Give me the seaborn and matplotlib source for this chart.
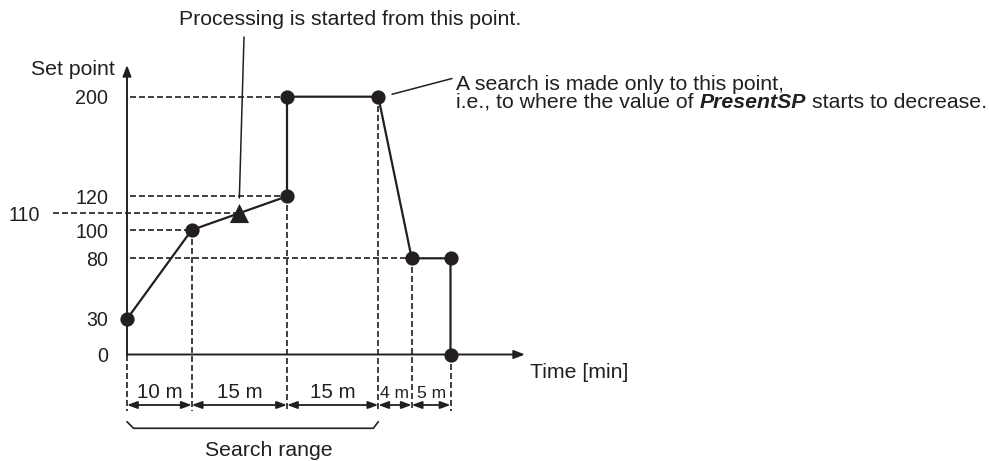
import numpy as np
import pandas as pd
import matplotlib
matplotlib.use("Agg")
import matplotlib.pyplot as plt
import seaborn as sns

# ---------------- data ----------------
time_min = [0, 10, 25, 25, 40, 44, 49, 49]
set_point = [30, 100, 120, 200, 200, 80, 80, 0]
start_time = 17.5
start_value = 110
segment_minutes = [10, 15, 15, 4, 5]
segment_labels = ["10 m", "15 m", "15 m", "4 m", "5 m"]
search_end = 40
y_ticks = [0, 30, 80, 100, 120, 200]
y_tick_labels = ["0", "30", "80", "100", "120", "200"]

INK = "#231f20"
W, H = 989, 461

sns.set_style("white")
plt.rcParams["font.family"] = ["Liberation Sans", "DejaVu Sans"]
FS = 15.3       # sentences
FS_NUM = 14.1   # numbers
FS_DIM = [14.8, 14.8, 14.8, 12.5, 12.5]

# schematic (non-linear) scales: anchor values -> figure pixels
boundaries = np.concatenate([[0], np.cumsum(segment_minutes)])
X_PX = np.array([127, 191.7, 287, 378.3, 411.7, 450.5])
Y_PX = np.array([354.5, 319, 258.3, 230, 196.3, 96.7])


def piecewise(src, dst):
    src = np.asarray(src, float)
    dst = np.asarray(dst, float)

    def f(v):
        v = np.asarray(v, float)
        out = np.interp(v, src, dst)
        lo_s = (dst[1] - dst[0]) / (src[1] - src[0])
        hi_s = (dst[-1] - dst[-2]) / (src[-1] - src[-2])
        out = np.where(v < src[0], dst[0] + (v - src[0]) * lo_s, out)
        out = np.where(v > src[-1], dst[-1] + (v - src[-1]) * hi_s, out)
        return out
    return f


fwd_x = piecewise(boundaries, X_PX)
inv_x = piecewise(X_PX, boundaries)
fwd_y = piecewise(y_ticks, H - Y_PX)
inv_y = piecewise(H - Y_PX, y_ticks)


def T(px):
    return float(inv_x(px))


def V(py):
    return float(inv_y(H - py))


fig = plt.figure(figsize=(W / 100, H / 100), dpi=100)
ax = fig.add_axes([127 / W, 0, 1 - 127 / W, 1])
ax.set_xscale("function", functions=(fwd_x, inv_x))
ax.set_yscale("function", functions=(fwd_y, inv_y))
ax.set_xlim(T(127), T(W))
ax.set_ylim(V(H), V(0))
for s in ax.spines.values():
    s.set_visible(False)
ax.tick_params(axis="x", bottom=False, labelbottom=False)
ax.set_yticks(y_ticks, y_tick_labels)
ax.tick_params(axis="y", length=0, pad=13.5, labelsize=FS_NUM, labelcolor=INK)
for lab in ax.get_yticklabels():
    lab.set_va("center_baseline")

dash_kw = dict(color=INK, lw=1.2, linestyle=(0, (3.6, 1.8)), clip_on=False, zorder=1)
hdash_kw = dict(color=INK, lw=1.2, linestyle=(3.6, (3.6, 1.8)), clip_on=False, zorder=1)

# horizontal dashed guides to the first point at each level
df = pd.DataFrame({"t": time_min, "v": set_point})
for val in [200, 120, 100, 80]:
    t_first = df.loc[df.v == val, "t"].min()
    ax.plot([0, t_first], [val, val], **hdash_kw)
# 110 guide (starts outside the axis)
ax.plot([T(53), start_time], [start_value, start_value], **dash_kw)
ax.text(T(40), start_value, str(start_value), ha="right", va="center_baseline",
        fontsize=FS_NUM, color=INK)

# vertical dashed guides down to the dimension line
bottom_v = V(411)
for b in boundaries:
    top = df.loc[df.t == b, "v"].min() if (df.t == b).any() else 0
    if b == 0:
        top = 0
    ax.plot([b, b], [top, bottom_v], **dash_kw)

# axes with arrows
arrow_kw = dict(arrowstyle="-|>,head_length=0.65,head_width=0.25", color=INK,
                lw=1.4, mutation_scale=10, shrinkA=0, shrinkB=0)
ax.annotate("", xy=(0, V(65)), xytext=(0, 0), arrowprops=arrow_kw, annotation_clip=False)
ax.annotate("", xy=(T(525), 0), xytext=(0, 0), arrowprops=arrow_kw, annotation_clip=False)

# main profile
sns.lineplot(data=df, x="t", y="v", sort=False, estimator=None, color=INK, lw=1.6,
             ax=ax, zorder=3)
sns.scatterplot(data=df, x="t", y="v", color=INK, s=105, linewidth=0, ax=ax, zorder=4,
                clip_on=False)
sns.scatterplot(x=[start_time], y=[start_value], marker="^", color=INK, s=190,
                linewidth=0, ax=ax, zorder=4)
ax.set_xlabel("")
ax.set_ylabel("")

# dimension arrows
dim_kw = dict(arrowstyle="<|-|>,head_length=0.6,head_width=0.22", color=INK,
              lw=1.3, mutation_scale=10, shrinkA=0, shrinkB=0)
dim_v = V(405)
for a, b, lab, fs in zip(boundaries[:-1], boundaries[1:], segment_labels, FS_DIM):
    ax.annotate("", xy=(b, dim_v), xytext=(a, dim_v), arrowprops=dim_kw,
                annotation_clip=False)
    mid = T((fwd_x(a) + fwd_x(b)) / 2)
    ax.text(mid, V(398), lab, ha="center", va="baseline", fontsize=fs, color=INK)

# search range bracket
bx0, bx1 = 0, search_end
ax.plot([bx0, T(fwd_x(bx0) + 6.5), T(fwd_x(bx1) - 5), bx1],
        [V(421.7), V(428.3), V(428.3), V(421.7)], color=INK, lw=1.2, clip_on=False)
ax.text(T(269), V(456), "Search range", ha="center", va="baseline", fontsize=FS, color=INK)

# labels
ax.text(T(115), V(75), "Set point", ha="right", va="baseline", fontsize=FS, color=INK)
ax.text(T(530), V(378), "Time [min]", ha="left", va="baseline", fontsize=FS, color=INK)

# processing annotation
ax.plot([start_time, T(244)], [V(198), V(37)], color=INK, lw=1.1, clip_on=False)
ax.text(T(350), V(25), "Processing is started from this point.", ha="center",
        va="baseline", fontsize=FS, color=INK)

# search-end annotation
ax.plot([T(392), T(452)], [V(94.3), V(78.5)], color=INK, lw=1.1, clip_on=False)
ax.text(T(456.5), V(89.7), "A search is made only to this point,", ha="left",
        va="baseline", fontsize=FS, color=INK)
t1 = ax.text(T(456.5), V(108), "i.e., to where the value of", ha="left",
             va="baseline", fontsize=FS, color=INK)
t2 = ax.annotate("PresentSP", xy=(1, 0), xycoords=t1, xytext=(6, 0),
                 textcoords="offset pixels", ha="left", va="bottom", fontsize=FS,
                 fontweight="bold", fontstyle="italic", color=INK)
ax.annotate("starts to decrease.", xy=(1, 0), xycoords=t2, xytext=(6, 0),
            textcoords="offset pixels", ha="left", va="bottom", fontsize=FS, color=INK)

fig.savefig("out.png", dpi=100)
